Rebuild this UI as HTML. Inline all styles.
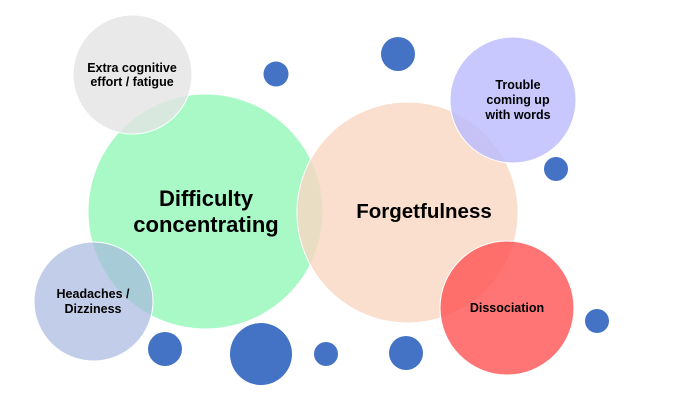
<!DOCTYPE html>
<html><head><style>html,body{margin:0;padding:0;background:#fff;}svg{display:block}text{font-family:"Liberation Sans",sans-serif;font-weight:bold;fill:#000;text-anchor:middle}</style></head>
<body>
<svg width="678" height="408" viewBox="0 0 678 408" xmlns="http://www.w3.org/2000/svg">
<g stroke="#fff" stroke-width="1">
<circle cx="205.5" cy="211.5" r="117.5" fill="#a9f9c7"/>
<circle cx="132.5" cy="74.5" r="59.5" fill="#e4e4e4" fill-opacity="0.8"/>
<circle cx="93.5" cy="301.5" r="59.5" fill="#a8b8e0" fill-opacity="0.7"/>
<circle cx="407.5" cy="212.5" r="110.5" fill="#f9d7c2" fill-opacity="0.8"/>
<circle cx="513" cy="100" r="63" fill="#babaff" fill-opacity="0.8"/>
<circle cx="507" cy="308" r="67" fill="#ff5555" fill-opacity="0.82"/>
</g>
<g fill="#4472c4">
<circle cx="276" cy="74" r="12.5"/>
<circle cx="398" cy="54" r="17"/>
<circle cx="556" cy="169" r="12"/>
<circle cx="165" cy="349" r="17"/>
<circle cx="261" cy="354" r="31"/>
<circle cx="326" cy="354" r="12"/>
<circle cx="406" cy="353" r="17"/>
<circle cx="597" cy="321" r="12"/>
</g>
<text x="132" y="72" font-size="12.5">Extra cognitive</text>
<text x="132" y="86" font-size="12.5">effort / fatigue</text>
<text x="206" y="206" font-size="22">Difficulty</text>
<text x="206" y="232" font-size="22">concentrating</text>
<text x="93" y="298" font-size="12.5">Headaches /</text>
<text x="93" y="313" font-size="12.5">Dizziness</text>
<text x="424" y="218" font-size="20.5">Forgetfulness</text>
<text x="518" y="89" font-size="12.5">Trouble</text>
<text x="518" y="104" font-size="12.5">coming up</text>
<text x="518" y="119" font-size="12.5">with words</text>
<text x="507" y="312" font-size="12.5">Dissociation</text>
</svg>
</body></html>
